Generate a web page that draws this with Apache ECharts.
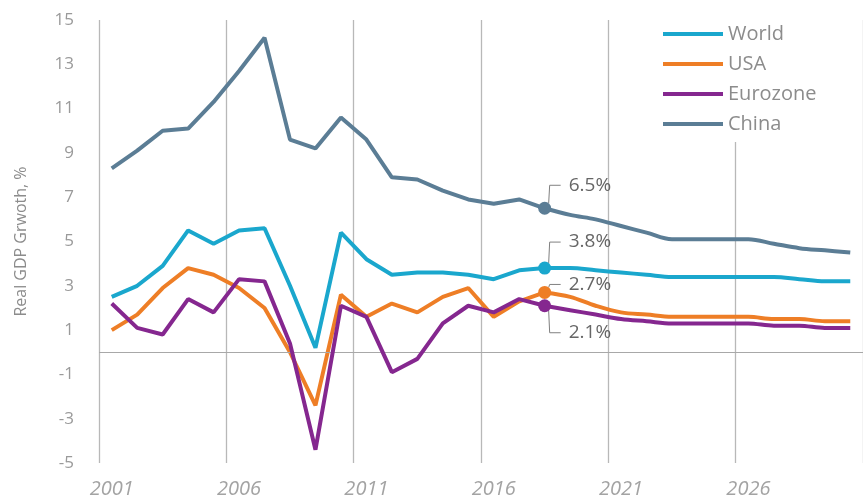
<!DOCTYPE html>
<html>
<head>
<meta charset="utf-8">
<script src="https://cdn.jsdelivr.net/npm/echarts@6/dist/echarts.min.js"></script>
<style>
  html, body { margin: 0; padding: 0; background: #ffffff; }
  #chart { width: 863px; height: 499px; }
</style>
</head>
<body>
<div id="chart"></div>
<script>
// ---- data ----
const years = ['2001','2002','2003','2004','2005','2006','2007','2008','2009','2010',
               '2011','2012','2013','2014','2015','2016','2017','2018','2019','2020',
               '2021','2022','2023','2024','2025','2026','2027','2028','2029','2030'];
const world    = [2.5, 3.0, 3.9, 5.5, 4.9, 5.5, 5.6, 3.0, 0.2, 5.4, 4.2, 3.5, 3.6, 3.6, 3.5, 3.3, 3.7, 3.8, 3.8, 3.7, 3.6, 3.5, 3.4, 3.4, 3.4, 3.4, 3.4, 3.3, 3.2, 3.2];
const usa      = [1.0, 1.7, 2.9, 3.8, 3.5, 2.9, 2.0, 0.0, -2.4, 2.6, 1.6, 2.2, 1.8, 2.5, 2.9, 1.6, 2.3, 2.7, 2.5, 2.1, 1.8, 1.7, 1.6, 1.6, 1.6, 1.6, 1.5, 1.5, 1.4, 1.4];
const eurozone = [2.2, 1.1, 0.8, 2.4, 1.8, 3.3, 3.2, 0.4, -4.4, 2.1, 1.6, -0.9, -0.3, 1.3, 2.1, 1.8, 2.4, 2.1, 1.9, 1.7, 1.5, 1.4, 1.3, 1.3, 1.3, 1.3, 1.2, 1.2, 1.1, 1.1];
const china    = [8.3, 9.1, 10.0, 10.1, 11.3, 12.7, 14.2, 9.6, 9.2, 10.6, 9.6, 7.9, 7.8, 7.3, 6.9, 6.7, 6.9, 6.5, 6.2, 6.0, 5.7, 5.4, 5.1, 5.1, 5.1, 5.1, 4.9, 4.7, 4.6, 4.5];
const seriesNames = ['World', 'USA', 'Eurozone', 'China'];
const yTicks = [-5, -3, -1, 1, 3, 5, 7, 9, 11, 13, 15];
const calloutYear = '2018';

// ---- styling ----
const colors = ['#1aa7cd', '#ee7e26', '#85278f', '#5b7d95'];
const calloutDy = [-26, -8, 27, -23];   // pixel offset of each callout label from its marker
const FONT = '"Open Sans", "DejaVu Sans", sans-serif';

const allData = [world, usa, eurozone, china];
const splitIdx = years.indexOf(calloutYear);

const series = [];
allData.forEach(function (arr, k) {
  series.push({
    name: seriesNames[k], type: 'line', symbol: 'none',
    data: arr.map(function (v, i) { return i <= splitIdx ? v : null; }),
    lineStyle: { color: colors[k], width: 4 }, itemStyle: { color: colors[k] },
    z: 3 + k,
    markLine: k === 0 ? {
      silent: true, symbol: ['none', 'none'], animation: false,
      label: { show: false },
      lineStyle: { color: '#a8a8a8', width: 1, type: 'solid' },
      data: [{ yAxis: 0 }]
    } : undefined
  });
  series.push({
    name: seriesNames[k], type: 'line', symbol: 'none', smooth: 0.35,
    data: arr.map(function (v, i) { return i >= splitIdx ? v : null; }),
    lineStyle: { color: colors[k], width: 4 }, itemStyle: { color: colors[k] },
    z: 3 + k
  });
});

// callouts (marker + leader + value) drawn through the axes
series.push({
  type: 'custom', coordinateSystem: 'cartesian2d', z: 20, silent: true,
  encode: { x: 0, y: 1 },
  data: allData.map(function (arr) { return [splitIdx, arr[splitIdx]]; }),
  renderItem: function (params, api) {
    const k = params.dataIndex;
    const val = api.value(1);
    const p = api.coord([api.value(0), val]);
    const dy = calloutDy[k];
    const ly = p[1] + dy;
    const sy = p[1] + (dy < 0 ? -5 : 5);
    return {
      type: 'group',
      children: [
        { type: 'polyline', shape: { points: [[p[0] + 4, sy], [p[0] + 5, ly], [p[0] + 16, ly]] },
          style: { stroke: '#808080', lineWidth: 1, fill: null } },
        { type: 'circle', shape: { cx: p[0], cy: p[1], r: 6.5 }, style: { fill: colors[k] } },
        { type: 'text', x: p[0] + 24, y: ly,
          style: { text: val.toFixed(1) + '%', fill: '#666666', font: '19px ' + FONT,
                   verticalAlign: 'middle', align: 'left' } }
      ]
    };
  }
});

const chart = echarts.init(document.getElementById('chart'), null, { renderer: 'canvas' });
chart.setOption({
  animation: false,
  backgroundColor: '#ffffff',
  grid: { left: 99, right: -6, top: 20, bottom: 33, containLabel: false },
  legend: {
    data: seriesNames, orient: 'vertical', left: 658, top: 18,
    icon: 'rect', itemWidth: 60, itemHeight: 4, itemGap: 10,
    backgroundColor: '#ffffff', padding: [6, 40, 8, 5], selectedMode: false,
    textStyle: { color: '#8c8c8c', fontSize: 20, lineHeight: 19, fontFamily: FONT }
  },
  xAxis: {
    type: 'category', data: years, boundaryGap: true,
    axisLine: { show: false },
    axisTick: { show: false, interval: 4 },
    axisLabel: { interval: 4, color: '#a3a3a3', fontSize: 20, fontStyle: 'italic',
                 fontFamily: FONT, margin: 16 },
    splitLine: { show: true, interval: 4, lineStyle: { color: '#b8b8b8', width: 1.3 } }
  },
  yAxis: {
    type: 'value', min: yTicks[0], max: yTicks[yTicks.length - 1], interval: 2,
    name: 'Real GDP Grwoth, %', nameLocation: 'middle', nameRotate: 90, nameGap: 70,
    nameTextStyle: { color: '#8c8c8c', fontSize: 16, fontFamily: FONT },
    axisLine: { show: false }, axisTick: { show: false },
    splitLine: { show: false },
    axisLabel: { color: '#9a9a9a', fontSize: 17, fontFamily: FONT, margin: 25 }
  },
  series: series
});
</script>
</body>
</html>
